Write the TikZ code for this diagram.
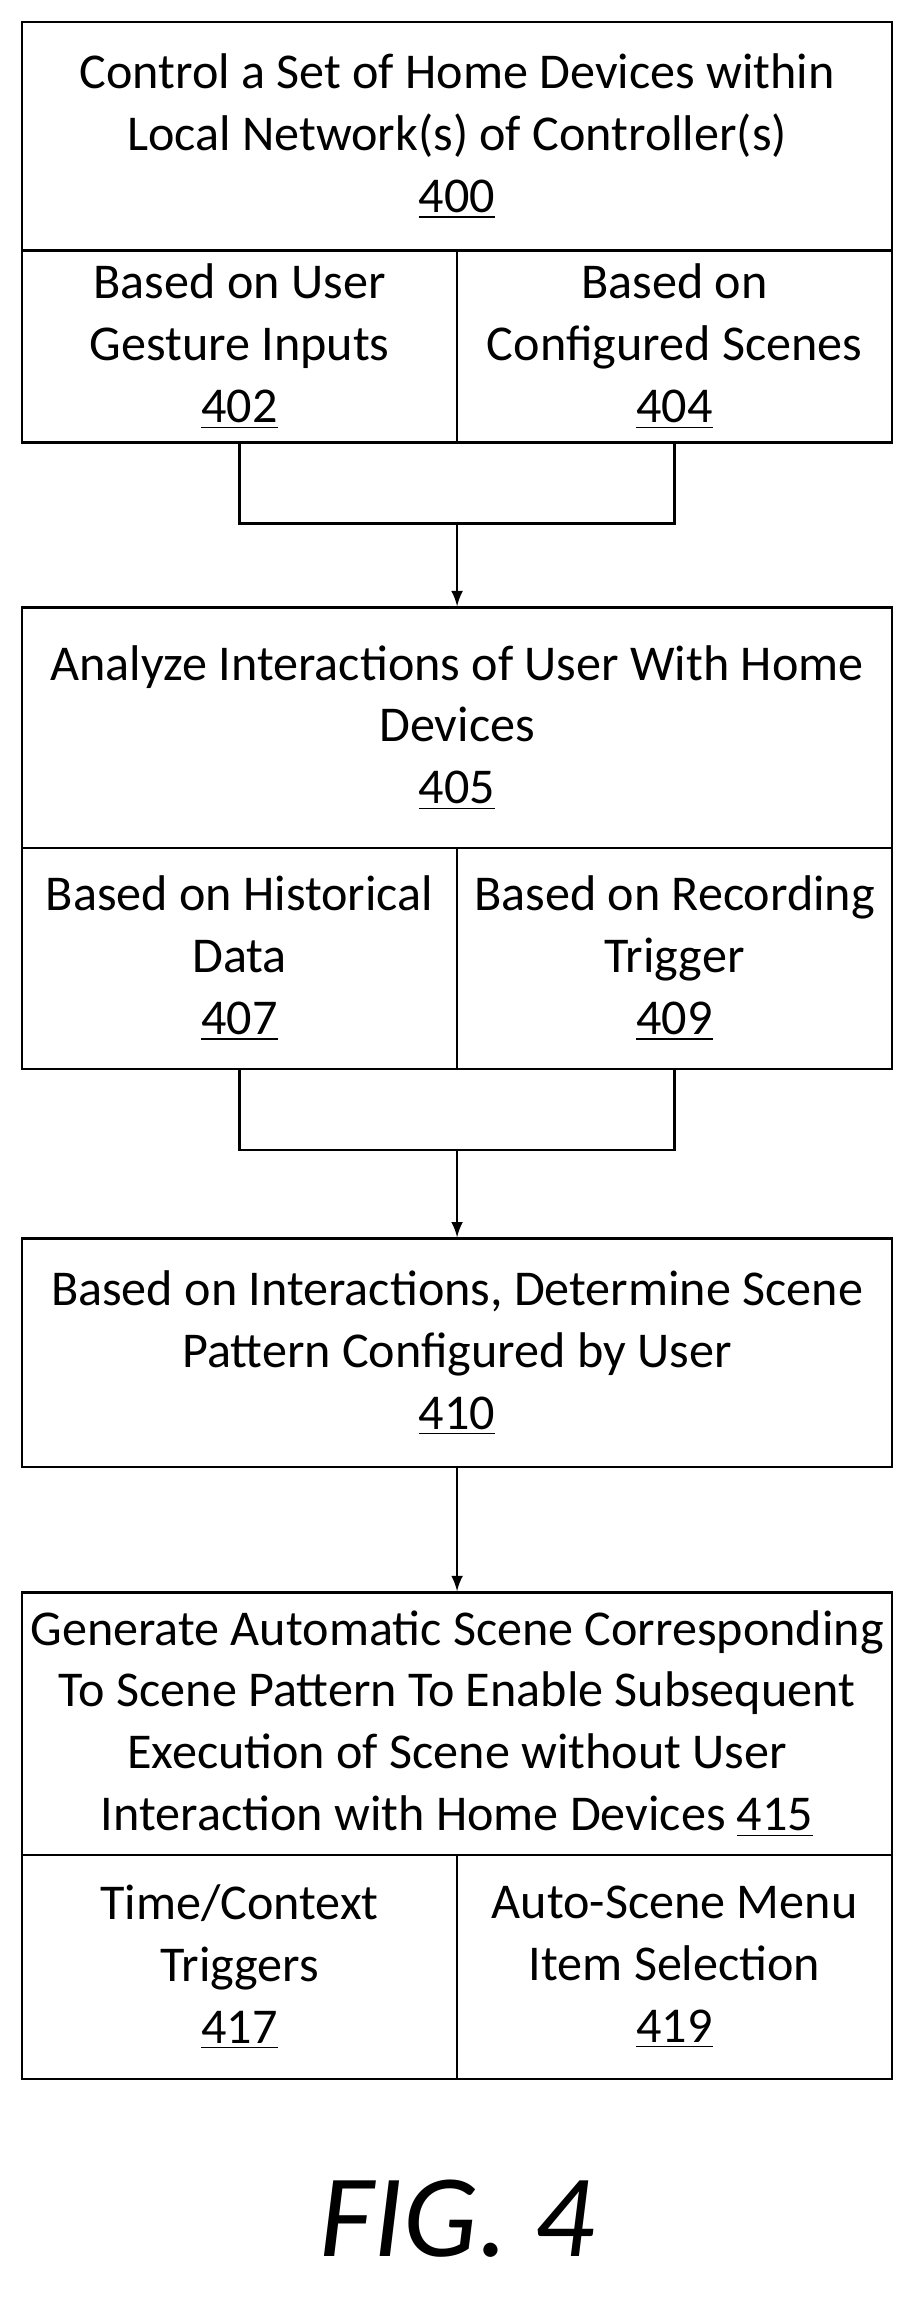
\documentclass[tikz,border=0pt]{standalone}
\usepackage{fontspec}
\setmainfont{Carlito}
\usetikzlibrary{positioning}
\tikzset{
	stage/.style={draw, thick, rectangle, inner sep=2pt, align=center, font=\fontsize{17}{21}\selectfont, minimum width=295pt},
	half/.style={draw, thick, rectangle, inner sep=2pt, align=center, font=\fontsize{17}{21}\selectfont, minimum width=147.5pt},
	flow/.style={thick, ->, >=latex},
}
\begin{document}
\begin{tikzpicture}[x=0.5pt, y=-0.5pt]
	\useasboundingbox (0,0) rectangle (620,1564);
	
	\node (c400) [stage, minimum height=77.5pt] at (310,92.5) {Control a Set of Home Devices within\\Local Network(s) of Controller(s)\\\underline{400}};
	\node (c402) [half, minimum height=65pt] at (162.5,235) {Based on User\\Gesture Inputs\\\underline{402}};
	\node (c404) [half, minimum height=65pt] at (457.5,235) {Based on\\Configured Scenes\\\underline{404}};
	
	\node (a405) [stage, minimum height=81.5pt] at (310,493.5) {Analyze Interactions of User With Home\\Devices\\\underline{405}};
	\node (a407) [half, minimum height=75pt] at (162.5,650) {Based on Historical\\Data\\\underline{407}};
	\node (a409) [half, minimum height=75pt] at (457.5,650) {Based on Recording\\Trigger\\\underline{409}};
	
	\node (d410) [stage, minimum height=77.5pt] at (310,917.5) {Based on Interactions, Determine Scene\\Pattern Configured by User\\\underline{410}};
	
	\node (g415) [stage, minimum height=89pt] at (310,1169) {Generate Automatic Scene Corresponding\\To Scene Pattern To Enable Subsequent\\Execution of Scene without User\\Interaction with Home Devices \underline{415}};
	\node (g417) [half, minimum height=76pt] at (162.5,1334) {Time/Context\\Triggers\\\underline{417}};
	\node (g419) [half, minimum height=76pt] at (457.5,1334) {Auto-Scene Menu\\Item Selection\\\underline{419}};
	
	\coordinate (j1) at (310,355);
	\coordinate (j2) at (310,780);
	
	\node (fig) at (310,1505) {\fontsize{40}{44}\selectfont\itshape FIG. 4};
	
	\draw[thick] (c402.south) |- (j1) -| (c404.south);
	\draw[thick] (a407.south) |- (j2) -| (a409.south);
	\begin{scope}[flow]
		\draw (j1) -- (a405.north);
		\draw (j2) -- (d410.north);
		\draw (d410.south) -- (g415.north);
	\end{scope}
\end{tikzpicture}
\end{document}
